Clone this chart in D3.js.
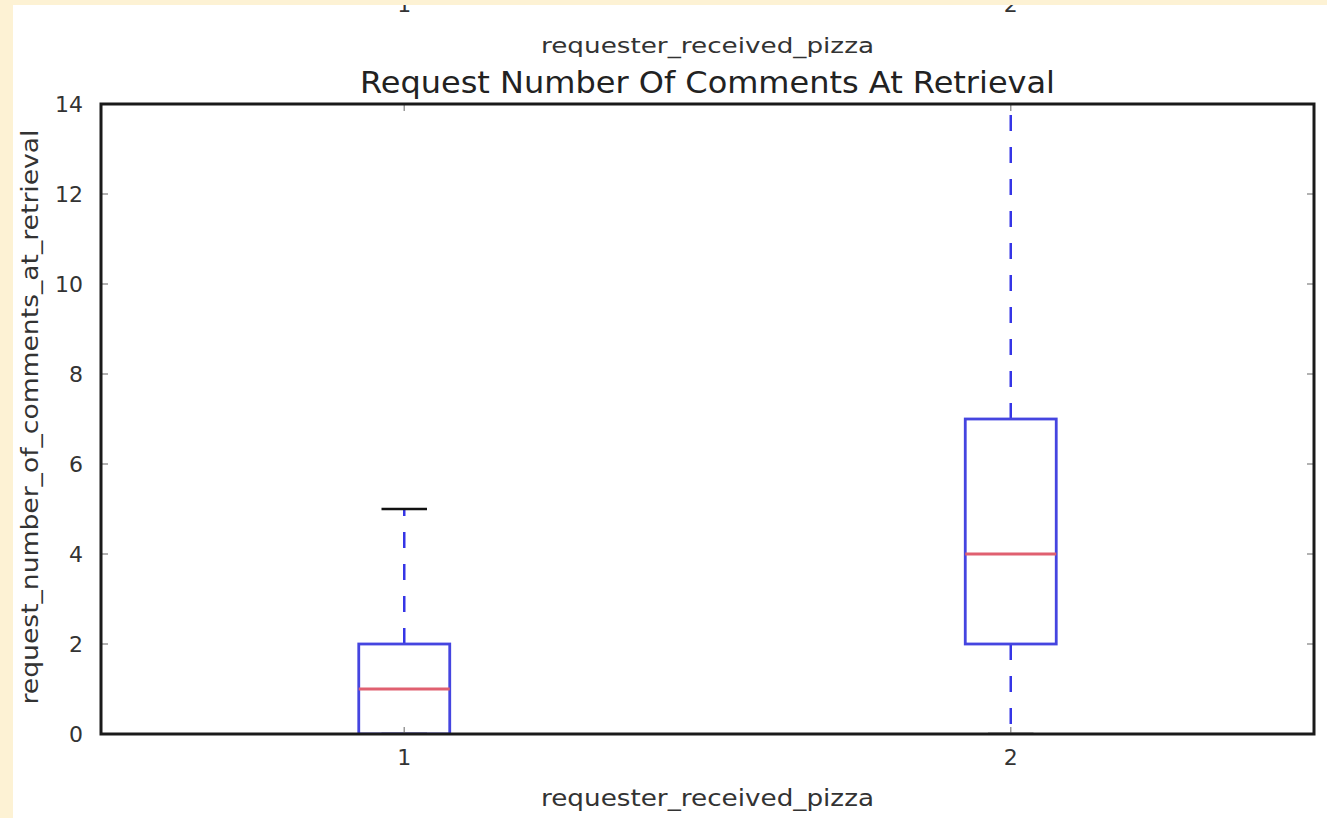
<!DOCTYPE html>
<html><head><meta charset="utf-8">
<script src="https://cdn.jsdelivr.net/npm/d3@7"></script>
<style>body{margin:0;background:#fff;} svg{display:block;} text{font-family:"DejaVu Sans",sans-serif;}</style>
</head><body>
<script>
const categories = ["1", "2"];
const q1 = [0, 2];
const median = [1, 4];
const q3 = [2, 7];
const whiskerLow = [0, 0];
const whiskerHigh = [5, 16];
const yTicks = [0, 2, 4, 6, 8, 10, 12, 14];
const title = "Request Number Of Comments At Retrieval";
const xLabel = "requester_received_pizza";
const yLabel = "request_number_of_comments_at_retrieval";

const W = 1327, H = 818;
const m = {left: 101, right: 13, top: 104, bottom: 84};
const pw = W - m.left - m.right, ph = H - m.top - m.bottom;

const svg = d3.select("body").append("svg").attr("width", W).attr("height", H);
svg.append("rect").attr("width", W).attr("height", H).attr("fill", "#fff");

const x = d3.scaleLinear().domain([0.5, 2.5]).range([m.left, m.left + pw]);
const y = d3.scaleLinear().domain([0, 14]).range([m.top + ph, m.top]);

// remnant labels of previous panel at top
svg.selectAll(".topTick").data(categories).enter().append("text")
  .attr("x", (d, i) => x(i + 1)).attr("y", 12).attr("text-anchor", "middle")
  .attr("font-size", 22).attr("fill", "#333").text(d => d);
svg.append("text").attr("x", x(1.5)).attr("y", 53).attr("text-anchor", "middle")
  .attr("font-size", 22).attr("textLength", 333).attr("lengthAdjust", "spacingAndGlyphs")
  .attr("fill", "#333").text(xLabel);

const defs = svg.append("defs");
defs.append("clipPath").attr("id", "clip").append("rect")
  .attr("x", m.left).attr("y", m.top).attr("width", pw).attr("height", ph);

const g = svg.append("g").attr("clip-path", "url(#clip)");
const bw = 0.15 * (x(2) - x(1));
const capW = bw / 2;

categories.forEach((c, i) => {
  const cx = x(i + 1);
  g.append("line").attr("x1", cx).attr("x2", cx).attr("y1", y(q3[i])).attr("y2", y(whiskerHigh[i]))
    .attr("stroke", "#3535e6").attr("stroke-width", 2.5).attr("stroke-dasharray", "16,16");
  g.append("line").attr("x1", cx).attr("x2", cx).attr("y1", y(q1[i])).attr("y2", y(whiskerLow[i]))
    .attr("stroke", "#3535e6").attr("stroke-width", 2.5).attr("stroke-dasharray", "16,16");
  [whiskerLow[i], whiskerHigh[i]].forEach(v => {
    g.append("line").attr("x1", cx - capW / 2).attr("x2", cx + capW / 2).attr("y1", y(v)).attr("y2", y(v))
      .attr("stroke", "#111").attr("stroke-width", 2.5);
  });
  g.append("rect").attr("x", cx - bw / 2).attr("y", y(q3[i])).attr("width", bw)
    .attr("height", y(q1[i]) - y(q3[i])).attr("fill", "none").attr("stroke", "#4545e0").attr("stroke-width", 2.8);
  g.append("line").attr("x1", cx - bw / 2).attr("x2", cx + bw / 2).attr("y1", y(median[i])).attr("y2", y(median[i]))
    .attr("stroke", "#e06070").attr("stroke-width", 2.8);
});

const tickG = svg.append("g");
yTicks.forEach(t => {
  tickG.append("line").attr("x1", m.left).attr("x2", m.left + 7).attr("y1", y(t)).attr("y2", y(t)).attr("stroke", "#999").attr("stroke-width", 1.5);
  tickG.append("line").attr("x1", m.left + pw - 7).attr("x2", m.left + pw).attr("y1", y(t)).attr("y2", y(t)).attr("stroke", "#999").attr("stroke-width", 1.5);
  svg.append("text").attr("x", m.left - 18).attr("y", y(t)).attr("dy", "0.36em").attr("text-anchor", "end")
    .attr("font-size", 22).attr("fill", "#333").text(t);
});
categories.forEach((c, i) => {
  tickG.append("line").attr("x1", x(i + 1)).attr("x2", x(i + 1)).attr("y1", m.top + ph).attr("y2", m.top + ph - 7).attr("stroke", "#999").attr("stroke-width", 1.5);
  tickG.append("line").attr("x1", x(i + 1)).attr("x2", x(i + 1)).attr("y1", m.top).attr("y2", m.top + 7).attr("stroke", "#999").attr("stroke-width", 1.5);
  svg.append("text").attr("x", x(i + 1)).attr("y", m.top + ph + 31).attr("text-anchor", "middle")
    .attr("font-size", 22).attr("fill", "#333").text(c);
});

svg.append("rect").attr("x", m.left).attr("y", m.top).attr("width", pw).attr("height", ph)
  .attr("fill", "none").attr("stroke", "#1a1a1a").attr("stroke-width", 3);

svg.append("text").attr("x", x(1.5)).attr("y", 93).attr("text-anchor", "middle")
  .attr("font-size", 30).attr("textLength", 695).attr("lengthAdjust", "spacingAndGlyphs")
  .attr("fill", "#222").text(title);
svg.append("text").attr("x", x(1.5)).attr("y", 806).attr("text-anchor", "middle")
  .attr("font-size", 23).attr("textLength", 333).attr("lengthAdjust", "spacingAndGlyphs")
  .attr("fill", "#333").text(xLabel);
svg.append("text").attr("transform", `translate(38,417) rotate(-90)`).attr("text-anchor", "middle")
  .attr("font-size", 23).attr("textLength", 575).attr("lengthAdjust", "spacingAndGlyphs")
  .attr("fill", "#333").text(yLabel);

svg.append("rect").attr("x", 0).attr("y", 0).attr("width", W).attr("height", 5).attr("fill", "#fdf2d4");
svg.append("rect").attr("x", 0).attr("y", 0).attr("width", 13).attr("height", H).attr("fill", "#fdf2d4");
</script>
</body></html>
